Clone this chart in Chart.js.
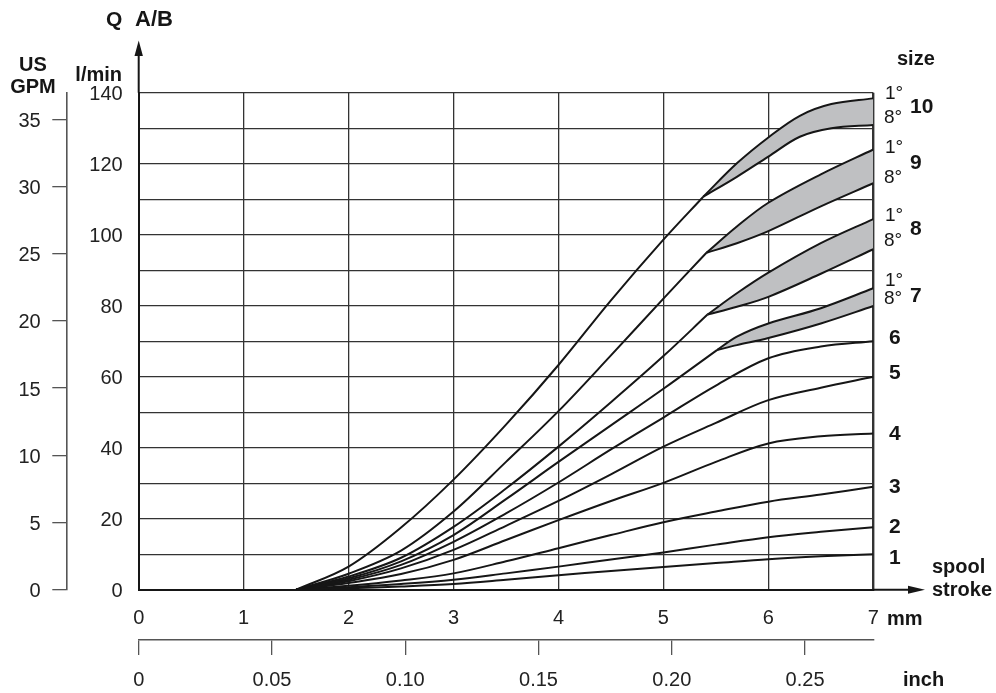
<!DOCTYPE html>
<html>
<head>
<meta charset="utf-8">
<script src="https://cdn.jsdelivr.net/npm/chart.js@4.4.1/dist/chart.umd.min.js"></script>
<style>
html, body { margin: 0; padding: 0; background: #fff; overflow: hidden; }
canvas { display: block; }
</style>
</head>
<body>
<canvas id="chart" width="996" height="693"></canvas>
<script>
const FONT = 'Arial, "Liberation Sans", Helvetica, sans-serif';
const INK = '#161616';
const GRID = '#333333';
const BAND = '#bfc0c2';

// spool stroke (mm), shared by sizes 1..6
const strokeMm = [1.5, 2, 2.5, 3, 3.5, 4, 4.5, 5, 5.5, 6, 6.5, 7];

// flow Q A/B (l/min), single curves
const size1 = [0, 0.4, 0.9, 1.6, 2.8, 4.1, 5.3, 6.4, 7.5, 8.6, 9.4, 10];
const size2 = [0, 0.7, 1.6, 2.8, 4.6, 6.5, 8.5, 10.5, 12.7, 14.8, 16.3, 17.6];
const size3 = [0, 1.1, 2.6, 4.6, 8.0, 11.7, 15.4, 19.0, 22.0, 24.8, 26.8, 29.0];
const size4 = [0, 1.9, 4.4, 8.4, 14.0, 19.6, 25.0, 30.1, 36.0, 41.2, 43.2, 44.0];
const size5 = [0, 2.4, 6.0, 11.2, 18.0, 25.0, 32.5, 40.3, 47.0, 53.4, 56.9, 60.0];
const size6 = [0, 2.8, 7.0, 13.5, 21.5, 30.2, 39.5, 48.5, 57.5, 65.2, 68.5, 70.0];

// sizes 7..10: common trunk up to the split, then 1° / 8° band
const trunkMm7 = [1.5, 2, 2.5, 3, 3.5, 4, 4.5, 5, 5.51];
const trunk7 = [0, 3.2, 8.0, 15.4, 25.5, 36.0, 46.3, 56.6, 67.5];
const bandMm7 = [5.51, 5.7, 6, 6.5, 7];
const size7deg1 = [67.5, 71.3, 75.0, 79.3, 84.9];
const size7deg8 = [67.5, 68.9, 70.9, 75.0, 79.9];

const trunkMm8 = [1.5, 2, 2.5, 3, 3.5, 4, 4.5, 5, 5.42];
const trunk8 = [0, 3.7, 9.0, 17.7, 28.5, 40.3, 52.8, 65.8, 77.5];
const bandMm8 = [5.42, 5.7, 6, 6.5, 7];
const size8deg1 = [77.5, 83.5, 89.3, 97.6, 104.4];
const size8deg8 = [77.5, 79.7, 82.5, 89.0, 95.9];

const trunkMm9 = [1.5, 2, 2.5, 3, 3.5, 4, 4.5, 5, 5.41];
const trunk9 = [0, 4.5, 11.0, 22.0, 36.0, 50.3, 66.0, 82.0, 94.9];
const bandMm9 = [5.41, 5.7, 6, 6.5, 7];
const size9deg1 = [94.9, 102.3, 109.0, 117.0, 124.0];
const size9deg8 = [94.9, 97.6, 101.0, 108.0, 114.5];

const trunkMm10 = [1.5, 2, 2.5, 3, 3.5, 4, 4.5, 5, 5.38];
const trunk10 = [0, 6.5, 17.5, 31.0, 46.5, 63.3, 81.5, 98.6, 110.7];
const bandMm10 = [5.38, 5.7, 6, 6.3, 6.6, 7];
const size10deg1 = [110.7, 120.1, 127.4, 133.5, 136.8, 138.4];
const size10deg8 = [110.7, 116.3, 122.0, 127.6, 130.0, 130.9];

const LPM_PER_GPM = 3.785;
const MM_PER_INCH = 25.4;

const pts = (xs, ys) => xs.map((x, i) => ({ x, y: ys[i] }));

const line = (data, extra) => Object.assign({
    data,
    borderColor: INK,
    borderWidth: 2,
    pointRadius: 0,
    fill: false,
    tension: 0.35
}, extra || {});

const datasets = [
    line(pts(strokeMm, size1)),
    line(pts(strokeMm, size2)),
    line(pts(strokeMm, size3)),
    line(pts(strokeMm, size4)),
    line(pts(strokeMm, size5)),
    line(pts(strokeMm, size6))
];

[
    [trunkMm7, trunk7, bandMm7, size7deg1, size7deg8],
    [trunkMm8, trunk8, bandMm8, size8deg1, size8deg8],
    [trunkMm9, trunk9, bandMm9, size9deg1, size9deg8],
    [trunkMm10, trunk10, bandMm10, size10deg1, size10deg8]
].forEach(([tx, ty, bx, hi, lo]) => {
    datasets.push(line(pts(tx, ty)));
    datasets.push(line(pts(bx, hi), { fill: '+1', backgroundColor: BAND }));
    datasets.push(line(pts(bx, lo)));
});

function text(ctx, str, x, y, opts) {
    ctx.font = (opts.bold ? 'bold ' : '') + opts.size + 'px ' + FONT;
    ctx.textAlign = opts.align || 'left';
    ctx.textBaseline = 'middle';
    ctx.fillText(str, x, y);
}

const decor = {
    id: 'decor',
    afterDraw(chart) {
        const { ctx, chartArea: a } = chart;
        ctx.save();
        ctx.fillStyle = INK;
        ctx.strokeStyle = INK;
        ctx.lineWidth = 2;

        // Q arrow
        ctx.beginPath();
        ctx.moveTo(a.left, a.top);
        ctx.lineTo(a.left, 52);
        ctx.stroke();
        ctx.beginPath();
        ctx.moveTo(a.left, 40.5);
        ctx.lineTo(a.left - 4.2, 56);
        ctx.lineTo(a.left + 4.2, 56);
        ctx.closePath();
        ctx.fill();

        // stroke arrow
        ctx.beginPath();
        ctx.moveTo(a.right, a.bottom);
        ctx.lineTo(912, a.bottom);
        ctx.stroke();
        ctx.beginPath();
        ctx.moveTo(925, a.bottom);
        ctx.lineTo(908, a.bottom - 4);
        ctx.lineTo(908, a.bottom + 4);
        ctx.closePath();
        ctx.fill();

        const B = { bold: true, size: 20 };
        text(ctx, 'Q', 106, 20, { bold: true, size: 21 });
        text(ctx, 'A/B', 135, 20, { bold: true, size: 22 });
        text(ctx, 'US', 33, 65, Object.assign({ align: 'center' }, B));
        text(ctx, 'GPM', 33, 87.5, Object.assign({ align: 'center' }, B));
        text(ctx, 'l/min', 122, 75.5, Object.assign({ align: 'right' }, B));
        text(ctx, 'size', 897, 59, B);
        text(ctx, 'mm', 887, 619, B);
        text(ctx, 'inch', 903, 680, B);
        text(ctx, 'spool', 932, 567, B);
        text(ctx, 'stroke', 932, 590, B);

        const N = { bold: true, size: 21 };
        [['10', 107.5], ['9', 163.5], ['8', 229.5], ['7', 296]].forEach(([s, y]) => text(ctx, s, 910, y, N));
        [['6', 338], ['5', 373.5], ['4', 434], ['3', 487], ['2', 527.5], ['1', 558]].forEach(([s, y]) => text(ctx, s, 889, y, N));

        const D = { size: 19 };
        [[94, 117.5], [147.5, 177.5], [215.5, 240.5], [280.5, 299]].forEach(([y1, y8]) => {
            text(ctx, '1°', 885, y1, D);
            text(ctx, '8°', 884, y8, D);
        });
        ctx.restore();
    }
};

const tickFont = { family: FONT, size: 20 };

new Chart(document.getElementById('chart'), {
    type: 'line',
    data: { datasets },
    plugins: [decor],
    options: {
        responsive: false,
        animation: false,
        events: [],
        layout: { padding: { left: 0, top: 92.7, right: 122.7, bottom: 0 } },
        plugins: {
            legend: { display: false },
            tooltip: { enabled: false },
            filler: { drawTime: 'beforeDatasetsDraw' }
        },
        scales: {
            x: {
                type: 'linear',
                position: 'bottom',
                weight: 0,
                min: 0,
                max: 7,
                ticks: { stepSize: 1, autoSkip: false, maxRotation: 0, padding: 17, color: '#222', font: tickFont },
                grid: {
                    color: GRID,
                    lineWidth: c => (c.tick && c.tick.value === 7 ? 2.4 : 1.3),
                    drawTicks: false
                },
                border: { color: INK, width: 2 },
                afterFit: s => { s.height = 50.3; }
            },
            inch: {
                type: 'linear',
                position: 'bottom',
                weight: 1,
                min: 0,
                max: 7 / MM_PER_INCH,
                ticks: {
                    stepSize: 0.05,
                    includeBounds: false,
                    autoSkip: false,
                    maxRotation: 0,
                    padding: 13,
                    color: '#222',
                    font: tickFont,
                    callback: v => (v === 0 ? '0' : v.toFixed(2))
                },
                grid: { drawOnChartArea: false, tickLength: 15, color: '#555', lineWidth: 1.3 },
                border: { color: '#555', width: 1.6 },
                afterFit: s => { s.height = 53; }
            },
            y: {
                type: 'linear',
                position: 'left',
                weight: 0,
                min: 0,
                max: 140,
                ticks: {
                    stepSize: 10,
                    autoSkip: false,
                    padding: 16,
                    labelOffset: 2,
                    color: '#222',
                    font: tickFont,
                    callback: v => (v % 20 === 0 ? String(v) : '')
                },
                grid: { color: GRID, lineWidth: 1.3, drawTicks: false },
                border: { color: INK, width: 2 },
                afterFit: s => { s.width = 72; }
            },
            gpm: {
                type: 'linear',
                position: 'left',
                weight: 1,
                min: 0,
                max: 140 / LPM_PER_GPM,
                ticks: { stepSize: 5, includeBounds: false, autoSkip: false, padding: 11.6, labelOffset: 2, color: '#222', font: tickFont },
                grid: { drawOnChartArea: false, tickLength: 14.4, color: '#555', lineWidth: 1.3 },
                border: { color: '#555', width: 1.6 },
                afterFit: s => { s.width = 66.7; }
            }
        }
    }
});
</script>
</body>
</html>
